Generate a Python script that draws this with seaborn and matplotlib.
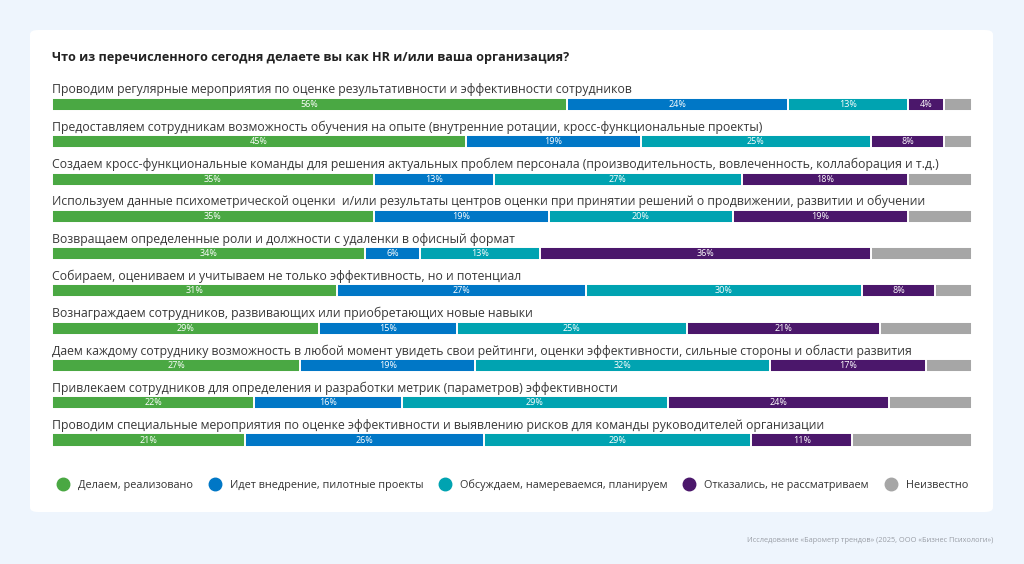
import numpy as np
import pandas as pd
import matplotlib
matplotlib.use("Agg")
import matplotlib.pyplot as plt
from matplotlib.patches import FancyBboxPatch
from matplotlib.lines import Line2D
import seaborn as sns

categories = [
    "Проводим регулярные мероприятия по оценке результативности и эффективности сотрудников",
    "Предоставляем сотрудникам возможность обучения на опыте (внутренние ротации, кросс-функциональные проекты)",
    "Создаем кросс-функциональные команды для решения актуальных проблем персонала (производительность, вовлеченность, коллаборация и т.д.)",
    "Используем данные психометрической оценки  и/или результаты центров оценки при принятии решений о продвижении, развитии и обучении",
    "Возвращаем определенные роли и должности с удаленки в офисный формат",
    "Собираем, оцениваем и учитываем не только эффективность, но и потенциал",
    "Вознаграждаем сотрудников, развивающих или приобретающих новые навыки",
    "Даем каждому сотруднику возможность в любой момент увидеть свои рейтинги, оценки эффективности, сильные стороны и области развития",
    "Привлекаем сотрудников для определения и разработки метрик (параметров) эффективности",
    "Проводим специальные мероприятия по оценке эффективности и выявлению рисков для команды руководителей организации",
]
series_names = ["Делаем, реализовано", "Идет внедрение, пилотные проекты",
                "Обсуждаем, намереваемся, планируем", "Отказались, не рассматриваем", "Неизвестно"]
done = [56, 45, 35, 35, 34, 31, 29, 27, 22, 21]
implementing = [24, 19, 13, 19, 6, 27, 15, 19, 16, 26]
planning = [13, 25, 27, 20, 13, 30, 25, 32, 29, 29]
refused = [4, 8, 18, 19, 36, 8, 21, 17, 24, 11]
unknown = [3, 3, 7, 7, 11, 4, 10, 5, 9, 13]

colors = ["#4aa843", "#0077c6", "#00a3b1", "#4b176b", "#a6a6a6"]

sns.set_theme(style="white")
plt.rcParams["font.family"] = ["Open Sans", "DejaVu Sans"]

series = [done, implementing, planning, refused, unknown]
df = pd.DataFrame({"cat": categories})
for name, vals in zip(series_names, series):
    df[name] = vals
cum = df[series_names].cumsum(axis=1)

fig = plt.figure(figsize=(10.24, 5.64), dpi=100)
fig.patch.set_facecolor("#eef5fd")
card = FancyBboxPatch((30 / 1024, 1 - 512 / 564), 963 / 1024, 482 / 564,
                      boxstyle="round,pad=0,rounding_size=0.008",
                      transform=fig.transFigure, facecolor="white", edgecolor="none", zorder=-5)
fig.patches.append(card)

ax = fig.add_axes([52 / 1024, 1 - 458.65 / 564, 920 / 1024, (458.65 - 85.85) / 564])
ax.set_facecolor("none")
ax.set_zorder(2)

# draw cumulative bars from the last (rightmost) to the first so each overlays the previous
for k in range(len(series_names) - 1, -1, -1):
    sns.barplot(x=cum[series_names[k]], y=df["cat"], orient="h", color=colors[k],
                width=0.35, edgecolor="white", linewidth=1.4, ax=ax, saturation=1)

ax.set_xlim(0, 100)
ax.set_ylim(9.5, -0.5)
ax.set_xlabel("")
ax.set_ylabel("")
ax.set_xticks([])
ax.set_yticks([])
for s in ax.spines.values():
    s.set_visible(False)

for i, cat in enumerate(categories):
    ax.text(0, i - 0.39, cat, ha="left", va="center", fontsize=8.8, color="#383838")
    left = 0
    for k in range(4):
        v = series[k][i]
        ax.text(left + v / 2, i, f"{v}%", ha="center", va="center", fontsize=6.5, color="white")
        left += v

fig.text(52 / 1024, 1 - 57 / 564, "Что из перечисленного сегодня делаете вы как HR и/или ваша организация?",
         ha="left", va="center", fontsize=9.1, fontweight="bold", color="#222222")

handles = [Line2D([0], [0], marker="o", linestyle="none", markersize=9,
                  markerfacecolor=c, markeredgecolor=c) for c in colors]
fig.legend(handles, series_names, loc="center", bbox_to_anchor=(510 / 1024, 1 - 485 / 564),
           ncol=5, frameon=False, fontsize=7.8, handletextpad=0.4, columnspacing=1.0,
           labelcolor="#333333")

fig.text(993 / 1024, 1 - 540 / 564, "Исследование «Барометр трендов» (2025, ООО «Бизнес Психологи»)",
         ha="right", va="center", fontsize=5.3, color="#9a9ea6")

fig.savefig("out.png", dpi=100, facecolor=fig.get_facecolor())
